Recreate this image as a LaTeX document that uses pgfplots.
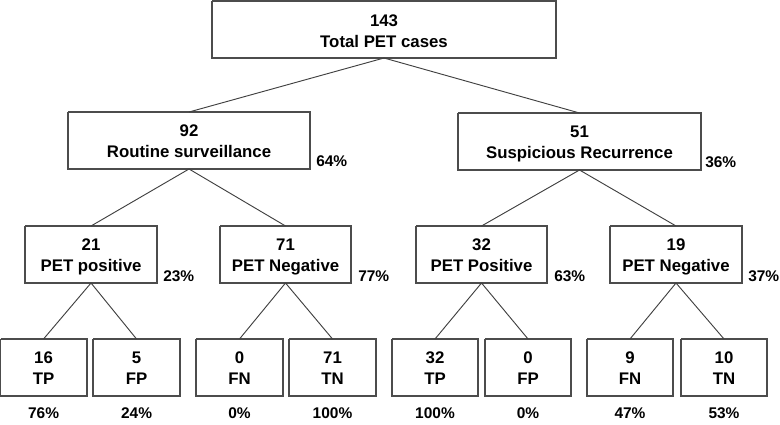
\documentclass[border=0pt]{standalone}
\usepackage{fontspec}
\setmainfont{Liberation Sans}
\usepackage{pgfplots}
\pgfplotsset{compat=1.18}

% box outlines: x1 x2 y1 y2 (pixel coordinates of the reference)
\newcommand{\bx}[4]{(#1,#3) (#2,#3) (#2,#4) (#1,#4) (#1,#3) (nan,nan)}

\begin{document}
\begin{tikzpicture}
\begin{axis}[
    x=0.75pt, y=0.75pt, y dir=reverse,
    xmin=0, xmax=780, ymin=0, ymax=425,
    hide axis, clip=false,
    unbounded coords=jump,
]
% outer extent
\addplot[draw=none] coordinates {(0,0) (780,425)};

% boxes
\addplot[black!70, line width=0.8pt, mark=none] coordinates {
    \bx{212}{556}{1}{58}
    \bx{68}{310}{112}{169}
    \bx{458}{701}{113}{170}
    \bx{25}{157}{226}{283}
    \bx{220}{351}{226}{283}
    \bx{416}{547}{226}{283}
    \bx{610}{742}{226}{283}
    \bx{0.5}{87}{339}{396}
    \bx{93}{180}{339}{396}
    \bx{196}{283}{339}{396}
    \bx{289}{376}{339}{396}
    \bx{392}{478}{339}{396}
    \bx{485}{571}{339}{396}
    \bx{587}{673}{339}{396}
    \bx{681}{767}{339}{396}
};

% connectors
\addplot[black!75, line width=0.7pt, mark=none] coordinates {
    (384,58) (189,112) (nan,nan)
    (384,58) (579.5,113) (nan,nan)
    (189,169) (91,226) (nan,nan)
    (189,169) (285.5,226) (nan,nan)
    (579.5,170) (481.5,226) (nan,nan)
    (579.5,170) (676,226) (nan,nan)
    (91,283) (43.5,339) (nan,nan)
    (91,283) (136.5,339) (nan,nan)
    (285.5,283) (239.5,339) (nan,nan)
    (285.5,283) (332.5,339) (nan,nan)
    (481.5,283) (435,339) (nan,nan)
    (481.5,283) (528,339) (nan,nan)
    (676,283) (630,339) (nan,nan)
    (676,283) (724,339)
};

\tikzset{bt/.style={font=\fontsize{12.6}{14}\selectfont\bfseries, anchor=base, inner sep=0pt},
         pt/.style={font=\fontsize{11.6}{13}\selectfont\bfseries, anchor=base, inner sep=0pt},
         pw/.style={pt, anchor=base west}}

% level 1
\node[bt] at (axis cs:384,26) {143};
\node[bt] at (axis cs:384,47) {Total PET cases};
% level 2
\node[bt] at (axis cs:189,137) {92};
\node[bt] at (axis cs:189,158) {Routine surveillance};
\node[pw] at (axis cs:316,167) {64\%};
\node[bt] at (axis cs:579.5,138) {51};
\node[bt] at (axis cs:579.5,159) {Suspicious Recurrence};
\node[pw] at (axis cs:705,168) {36\%};
% level 3
\node[bt] at (axis cs:91,251) {21};
\node[bt] at (axis cs:91,272) {PET positive};
\node[pw] at (axis cs:163,282) {23\%};
\node[bt] at (axis cs:285.5,251) {71};
\node[bt] at (axis cs:285.5,272) {PET Negative};
\node[pw] at (axis cs:358,282) {77\%};
\node[bt] at (axis cs:481.5,251) {32};
\node[bt] at (axis cs:481.5,272) {PET Positive};
\node[pw] at (axis cs:554,282) {63\%};
\node[bt] at (axis cs:676,251) {19};
\node[bt] at (axis cs:676,272) {PET Negative};
\node[pw] at (axis cs:748,282) {37\%};
% level 4
\node[bt] at (axis cs:43.5,364) {16};  \node[bt] at (axis cs:43.5,385) {TP};  \node[pt] at (axis cs:43.5,419) {76\%};
\node[bt] at (axis cs:136.5,364) {5};  \node[bt] at (axis cs:136.5,385) {FP}; \node[pt] at (axis cs:136.5,419) {24\%};
\node[bt] at (axis cs:239.5,364) {0};  \node[bt] at (axis cs:239.5,385) {FN}; \node[pt] at (axis cs:239.5,419) {0\%};
\node[bt] at (axis cs:332.5,364) {71}; \node[bt] at (axis cs:332.5,385) {TN}; \node[pt] at (axis cs:332.5,419) {100\%};
\node[bt] at (axis cs:435,364) {32};   \node[bt] at (axis cs:435,385) {TP};   \node[pt] at (axis cs:435,419) {100\%};
\node[bt] at (axis cs:528,364) {0};    \node[bt] at (axis cs:528,385) {FP};   \node[pt] at (axis cs:528,419) {0\%};
\node[bt] at (axis cs:630,364) {9};    \node[bt] at (axis cs:630,385) {FN};   \node[pt] at (axis cs:630,419) {47\%};
\node[bt] at (axis cs:724,364) {10};   \node[bt] at (axis cs:724,385) {TN};   \node[pt] at (axis cs:724,419) {53\%};
\end{axis}
\end{tikzpicture}
\end{document}
